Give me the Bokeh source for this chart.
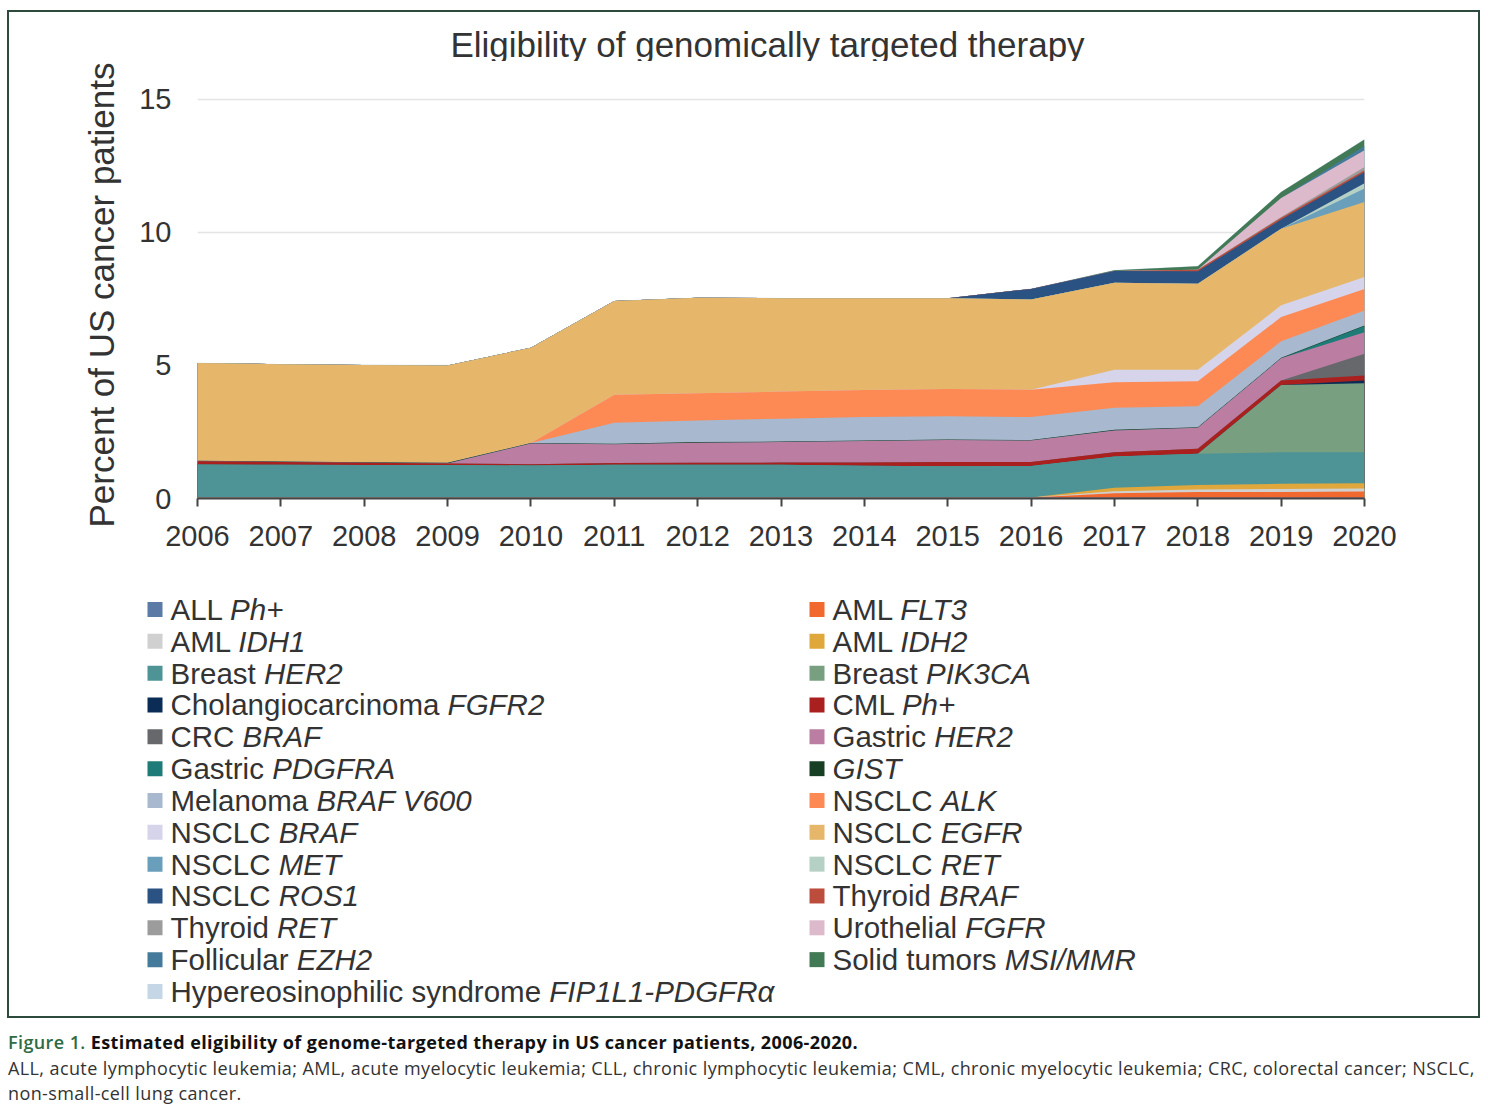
import glob
from bokeh.plotting import figure
from bokeh.models import ColumnDataSource, FixedTicker, Range1d, Div
from bokeh.transform import stack
from bokeh.core.properties import value
from bokeh.embed import file_html
from bokeh.resources import INLINE

# ---------------- data ----------------
years = [2006, 2007, 2008, 2009, 2010, 2011, 2012, 2013, 2014, 2015, 2016, 2017, 2018, 2019, 2020]

all_ph = [0.04, 0.04, 0.04, 0.04, 0.04, 0.04, 0.04, 0.04, 0.04, 0.04, 0.04, 0.04, 0.04, 0.04, 0.04]
aml_flt3 = [0, 0, 0, 0, 0, 0, 0, 0, 0, 0, 0, 0.16, 0.20, 0.20, 0.22]
aml_idh1 = [0, 0, 0, 0, 0, 0, 0, 0, 0, 0, 0, 0.07, 0.10, 0.12, 0.12]
aml_idh2 = [0, 0, 0, 0, 0, 0, 0, 0, 0, 0, 0, 0.13, 0.17, 0.19, 0.19]
breast_her2 = [1.24, 1.23, 1.22, 1.22, 1.20, 1.23, 1.23, 1.23, 1.19, 1.17, 1.18, 1.18, 1.17, 1.19, 1.17]
breast_pik3ca = [0, 0, 0, 0, 0, 0, 0, 0, 0, 0, 0, 0, 0, 2.53, 2.59]
cholangio_fgfr2 = [0, 0, 0, 0, 0, 0, 0, 0, 0, 0, 0, 0, 0, 0, 0.11]
cml_ph = [0.12, 0.10, 0.08, 0.06, 0.05, 0.06, 0.07, 0.08, 0.12, 0.16, 0.15, 0.16, 0.19, 0.17, 0.18]
crc_braf = [0, 0, 0, 0, 0, 0, 0, 0, 0, 0, 0, 0, 0, 0, 0.82]
gastric_her2 = [0, 0, 0, 0, 0.78, 0.71, 0.76, 0.77, 0.81, 0.83, 0.81, 0.82, 0.79, 0.83, 0.81]
gastric_pdgfra = [0, 0, 0, 0, 0, 0, 0, 0, 0, 0, 0, 0, 0, 0, 0.23]
gist = [0.02, 0.02, 0.02, 0.02, 0.02, 0.02, 0.02, 0.02, 0.02, 0.02, 0.02, 0.02, 0.02, 0.02, 0.02]
melanoma_braf = [0, 0, 0, 0, 0, 0.79, 0.81, 0.86, 0.88, 0.87, 0.86, 0.83, 0.79, 0.62, 0.57]
nsclc_alk = [0, 0, 0, 0, 0, 1.05, 1.03, 1.02, 1.02, 1.03, 1.03, 0.96, 0.94, 0.91, 0.81]
nsclc_braf = [0, 0, 0, 0, 0, 0, 0, 0, 0, 0, 0, 0.47, 0.43, 0.44, 0.45]
nsclc_egfr = [3.67, 3.66, 3.66, 3.66, 3.58, 3.52, 3.59, 3.51, 3.45, 3.41, 3.39, 3.27, 3.23, 2.88, 2.82]
nsclc_met = [0, 0, 0, 0, 0, 0, 0, 0, 0, 0, 0, 0, 0, 0, 0.50]
nsclc_ret = [0, 0, 0, 0, 0, 0, 0, 0, 0, 0, 0, 0, 0, 0, 0.20]
nsclc_ros1 = [0, 0, 0, 0, 0, 0, 0, 0, 0, 0, 0.40, 0.44, 0.47, 0.35, 0.42]
thyroid_braf = [0, 0, 0, 0, 0, 0, 0, 0, 0, 0, 0, 0, 0.06, 0.06, 0.07]
thyroid_ret = [0, 0, 0, 0, 0, 0, 0, 0, 0, 0, 0, 0, 0, 0.03, 0.12]
urothelial_fgfr = [0, 0, 0, 0, 0, 0, 0, 0, 0, 0, 0, 0, 0, 0.72, 0.63]
follicular_ezh2 = [0, 0, 0, 0, 0, 0, 0, 0, 0, 0, 0, 0, 0, 0, 0.16]
solid_msi = [0, 0, 0, 0, 0, 0, 0, 0, 0, 0, 0, 0.03, 0.13, 0.22, 0.25]
hypereos = [0.01, 0.01, 0.01, 0.01, 0.01, 0.01, 0.01, 0.01, 0.01, 0.01, 0.01, 0.01, 0.01, 0.01, 0.01]

# (plain part, italic part) in stacking / legend order
labels = [
    ("ALL ", "Ph+"), ("AML ", "FLT3"), ("AML ", "IDH1"), ("AML ", "IDH2"),
    ("Breast ", "HER2"), ("Breast ", "PIK3CA"), ("Cholangiocarcinoma ", "FGFR2"),
    ("CML ", "Ph+"), ("CRC ", "BRAF"), ("Gastric ", "HER2"), ("Gastric ", "PDGFRA"),
    ("", "GIST"), ("Melanoma ", "BRAF V600"), ("NSCLC ", "ALK"), ("NSCLC ", "BRAF"),
    ("NSCLC ", "EGFR"), ("NSCLC ", "MET"), ("NSCLC ", "RET"), ("NSCLC ", "ROS1"),
    ("Thyroid ", "BRAF"), ("Thyroid ", "RET"), ("Urothelial ", "FGFR"),
    ("Follicular ", "EZH2"), ("Solid tumors ", "MSI/MMR"),
    ("Hypereosinophilic syndrome ", "FIP1L1-PDGFR\u03b1"),
]
series = [all_ph, aml_flt3, aml_idh1, aml_idh2, breast_her2, breast_pik3ca,
          cholangio_fgfr2, cml_ph, crc_braf, gastric_her2, gastric_pdgfra, gist,
          melanoma_braf, nsclc_alk, nsclc_braf, nsclc_egfr, nsclc_met, nsclc_ret,
          nsclc_ros1, thyroid_braf, thyroid_ret, urothelial_fgfr, follicular_ezh2,
          solid_msi, hypereos]
palette = ["#5b7aa6", "#f2692f", "#d0d0d0", "#e0a83c", "#4e9497", "#789f80",
           "#0b2d55", "#a9201f", "#67686b", "#bb7da2", "#1d7b78", "#173f24",
           "#a8b8cf", "#fd8a54", "#d6d4ea", "#e6b76b", "#6a9fbb", "#b5d0c4",
           "#2a5383", "#bc4c3c", "#9c9c9c", "#dcbacb", "#447b9a", "#437a56",
           "#c5d7e6"]
title_text = "Eligibility of genomically targeted therapy"

FONT = "Liberation Sans"
TXT = "#333333"
BORDER = "2px solid #2c4b3c"
W = 1473

# ---------------- title strip (top of the framed box) ----------------
TH = 51
head = figure(width=W, height=TH, x_range=Range1d(0, W), y_range=Range1d(0, TH),
              output_backend="svg", toolbar_location=None, min_border=0,
              min_border_left=0, min_border_right=0, min_border_top=0, min_border_bottom=0,
              x_axis_type=None, y_axis_type=None,
              styles={"margin-left": "7px", "margin-top": "10px", "border-left": BORDER,
                      "border-right": BORDER, "border-top": BORDER})
head.grid.visible = False
head.outline_line_color = None
head.text(x=[758], y=[19], text=[title_text], text_font=value(FONT), text_font_size="35px",
          text_color=TXT, text_align="center", text_baseline="middle")

# ---------------- main chart ----------------
keys = ["s%d" % i for i in range(len(series))]
data = {"year": years}
for k, s in zip(keys, series):
    data[k] = s
src = ColumnDataSource(data)

MH = 553 - TH
p = figure(width=W, height=MH, x_range=Range1d(2006, 2020), y_range=Range1d(0, 15.3),
           output_backend="svg", toolbar_location=None,
           min_border_left=188, min_border_right=118, min_border_top=30,
           min_border_bottom=65,
           styles={"margin-left": "7px", "border-left": BORDER, "border-right": BORDER})
p.outline_line_color = None
p.background_fill_color = "white"
p.border_fill_color = "white"

for i in reversed(range(len(keys))):
    p.varea(x="year", y1=0, y2=stack(*keys[:i + 1]), source=src, fill_color=palette[i])

p.xgrid.grid_line_color = None
p.ygrid.grid_line_color = "#e4e4e4"
p.ygrid.grid_line_width = 1.5
p.ygrid.ticker = FixedTicker(ticks=[0, 5, 10, 15])

p.xaxis.ticker = FixedTicker(ticks=years)
p.xaxis.major_label_text_font = FONT
p.xaxis.major_label_text_font_size = "29px"
p.xaxis.major_label_text_color = TXT
p.xaxis.axis_line_color = "#444444"
p.xaxis.axis_line_width = 2
p.xaxis.major_tick_line_color = "#444444"
p.xaxis.major_tick_line_width = 2
p.xaxis.major_tick_out = 8
p.xaxis.major_tick_in = 0
p.xaxis.minor_tick_line_color = None
p.xaxis.major_label_standoff = 19

p.yaxis.ticker = FixedTicker(ticks=[0, 5, 10, 15])
p.yaxis.axis_line_color = None
p.yaxis.major_tick_line_color = None
p.yaxis.minor_tick_line_color = None
p.yaxis.major_label_text_font = FONT
p.yaxis.major_label_text_font_size = "29px"
p.yaxis.major_label_text_color = TXT
p.yaxis.major_label_standoff = 20
p.yaxis.axis_label = "Percent of US cancer patients"
p.yaxis.axis_label_text_font = FONT
p.yaxis.axis_label_text_font_size = "35px"
p.yaxis.axis_label_text_font_style = "normal"
p.yaxis.axis_label_text_color = TXT
p.yaxis.axis_label_standoff = 15

# ---------------- legend (manual, for mixed roman / italic labels) ----------------
LFS = 29.5


def find_font(fname):
    for pat in ["/usr/share/fonts/**/" + fname, "/usr/local/share/fonts/**/" + fname]:
        r = glob.glob(pat, recursive=True)
        if r:
            return r[0]
    return None


measure = None
try:
    from PIL import ImageFont
    fp = find_font("LiberationSans-Regular.ttf")
    if fp:
        _f = ImageFont.truetype(fp, LFS)
        measure = lambda s: _f.getlength(s)
except Exception:
    measure = None
if measure is None:
    measure = lambda s: 0.55 * LFS * len(s)

LH = 455
leg = figure(width=W, height=LH, x_range=Range1d(0, W), y_range=Range1d(0, LH),
             output_backend="svg", toolbar_location=None, min_border=0,
             min_border_left=0, min_border_right=0, min_border_top=0, min_border_bottom=0,
             x_axis_type=None, y_axis_type=None,
             styles={"margin-left": "7px", "border-left": BORDER,
                     "border-right": BORDER, "border-bottom": BORDER})
leg.grid.visible = False
leg.outline_line_color = None

col_sw = [145.5, 807.5]
col_tx = [161, 823]
row0 = 46
step = 31.83
sw_x, sw_y, sw_c = [], [], []
px, py, pt, ix, iy, it = [], [], [], [], [], []
for i, (plain, ital) in enumerate(labels):
    c, r = i % 2, i // 2
    yc = LH - (row0 + step * r)
    sw_x.append(col_sw[c])
    sw_y.append(yc)
    sw_c.append(palette[i])
    if plain:
        px.append(col_tx[c]); py.append(yc); pt.append(plain)
    ix.append(col_tx[c] + (measure(plain) if plain else 0)); iy.append(yc); it.append(ital)

leg.rect(x=sw_x, y=sw_y, width=15, height=15, fill_color=sw_c, line_color=None)
leg.text(x=px, y=py, text=pt, text_font=value(FONT), text_font_size="%.1fpx" % LFS,
         text_color=TXT, text_baseline="middle", text_align="left")
leg.text(x=ix, y=iy, text=it, text_font=value(FONT), text_font_size="%.1fpx" % LFS,
         text_font_style="italic", text_color=TXT, text_baseline="middle", text_align="left")

cap = Div(width=1472, styles={"margin-left": "8px"}, text=(
    '<div style="font-family:\'Open Sans\';font-size:18px;letter-spacing:0.4px;line-height:25.5px;'
    'color:#333;white-space:nowrap;padding-top:7px">'
    '<span style="color:#2f6b43;font-weight:600">Figure 1.</span> '
    '<b style="color:#111">Estimated eligibility of genome-targeted therapy in US cancer patients, 2006-2020.</b><br>'
    'ALL, acute lymphocytic leukemia; AML, acute myelocytic leukemia; CLL, chronic lymphocytic leukemia; '
    'CML, chronic myelocytic leukemia; CRC, colorectal cancer; NSCLC,<br>non-small-cell lung cancer.</div>'))

open("out.html", "w").write(file_html([head, p, leg, cap], INLINE))
